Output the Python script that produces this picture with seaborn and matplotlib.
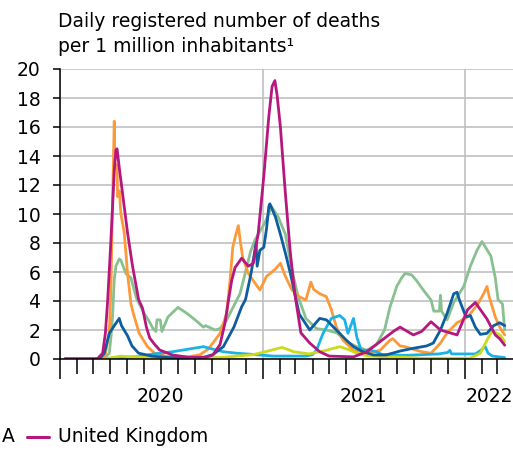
import matplotlib
matplotlib.use("Agg")
import matplotlib.pyplot as plt
import matplotlib.dates as mdates
from matplotlib.lines import Line2D
import pandas as pd
import seaborn as sns

# ---------------- data ----------------
usa_dates = ["2020-01-10", "2020-03-20", "2020-03-30", "2020-04-02", "2020-04-05", "2020-04-08", "2020-04-11",
             "2020-04-17", "2020-04-20", "2020-04-29", "2020-05-08", "2020-05-18", "2020-06-01", "2020-06-10",
             "2020-06-17", "2020-06-22", "2020-06-24", "2020-06-30", "2020-07-03", "2020-07-14", "2020-08-01",
             "2020-08-17", "2020-09-01", "2020-09-16", "2020-09-20", "2020-10-07", "2020-10-16", "2020-10-28",
             "2020-11-09", "2020-11-21", "2020-12-01", "2020-12-10", "2020-12-18", "2021-01-05", "2021-01-17",
             "2021-01-29", "2021-02-11", "2021-02-23", "2021-03-06", "2021-03-20", "2021-04-08", "2021-04-26",
             "2021-05-15", "2021-06-01", "2021-06-20", "2021-07-08", "2021-07-25", "2021-08-09", "2021-08-19",
             "2021-08-31", "2021-09-09", "2021-09-15", "2021-09-27", "2021-10-06", "2021-10-18", "2021-11-01",
             "2021-11-06", "2021-11-16", "2021-11-18", "2021-11-20", "2021-11-30", "2021-12-12", "2021-12-30",
             "2022-01-11", "2022-01-23", "2022-02-01", "2022-02-17", "2022-02-25", "2022-03-02", "2022-03-10",
             "2022-03-14"]
usa_values = [0, 0, 0.4, 1.5, 3.0, 5.5, 6.4,
              6.9, 6.8, 5.9, 5.6, 4.2, 3.15, 2.6,
              2.1, 1.9, 2.7, 2.7, 1.9, 2.9, 3.56,
              3.15, 2.7, 2.2, 2.3, 2.0, 2.1, 2.7,
              3.6, 4.5, 6.0, 7.4, 8.2, 9.4, 10.5,
              9.8, 8.6, 6.1, 4.3, 2.8, 2.1, 2.0,
              1.8, 1.2, 0.85, 0.6, 0.97, 2.0, 3.6,
              5.0, 5.6, 5.9, 5.8, 5.4, 4.76, 4.07,
              3.3, 3.3, 4.4, 3.3, 2.7, 3.9, 5.0,
              6.4, 7.5, 8.1, 7.1, 5.6, 4.1, 3.8,
              2.0]

uk_dates = ["2020-01-10", "2020-03-08", "2020-03-18", "2020-03-23", "2020-03-27", "2020-04-01", "2020-04-04",
            "2020-04-08", "2020-04-11", "2020-04-13", "2020-04-17", "2020-04-23", "2020-05-02", "2020-05-11",
            "2020-05-22", "2020-05-29", "2020-06-05", "2020-06-11", "2020-06-20", "2020-06-29", "2020-07-22",
            "2020-08-20", "2020-09-20", "2020-10-03", "2020-10-16", "2020-10-25", "2020-10-31", "2020-11-06",
            "2020-11-12", "2020-11-24", "2020-12-06", "2020-12-15", "2020-12-24", "2021-01-03", "2021-01-12",
            "2021-01-18", "2021-01-23", "2021-01-27", "2021-02-02", "2021-02-11", "2021-02-20", "2021-02-28",
            "2021-03-11", "2021-03-27", "2021-04-14", "2021-05-01", "2021-06-14", "2021-07-08", "2021-08-01",
            "2021-08-25", "2021-09-06", "2021-09-30", "2021-10-15", "2021-11-01", "2021-11-18", "2021-12-18",
            "2022-01-06", "2022-01-20", "2022-02-10", "2022-02-25", "2022-03-05", "2022-03-14"]
uk_values = [0, 0, 0.4, 1.8, 4.0, 7.5, 9.8,
             13.0, 14.4, 14.5, 13.2, 11.4, 8.7, 6.4,
             4.1, 3.5, 2.2, 1.45, 1.0, 0.62, 0.28,
             0.12, 0.12, 0.28, 1.0, 2.5, 4.0, 5.4,
             6.3, 6.95, 6.4, 6.6, 8.7, 12.6, 16.7,
             18.8, 19.2, 18.2, 16.0, 11.4, 7.3, 4.5,
             1.8, 1.1, 0.5, 0.2, 0.15, 0.5, 1.2,
             1.9, 2.2, 1.66, 1.9, 2.57, 2.0, 1.66,
             3.4, 3.9, 2.76, 1.66, 1.4, 0.95]

france_dates = ["2020-01-10", "2020-03-12", "2020-03-22", "2020-03-30", "2020-04-02", "2020-04-05", "2020-04-08",
                "2020-04-09", "2020-04-13", "2020-04-14", "2020-04-17", "2020-04-20", "2020-04-26", "2020-05-02",
                "2020-05-08", "2020-05-12", "2020-05-23", "2020-06-07", "2020-06-20", "2020-07-10", "2020-08-20",
                "2020-09-10", "2020-09-25", "2020-10-03", "2020-10-16", "2020-10-28", "2020-11-03", "2020-11-08",
                "2020-11-13", "2020-11-18", "2020-11-22", "2020-11-26", "2020-12-06", "2020-12-15", "2020-12-27",
                "2021-01-08", "2021-01-24", "2021-02-02", "2021-02-11", "2021-02-23", "2021-03-08", "2021-03-20",
                "2021-03-29", "2021-04-03", "2021-04-14", "2021-04-26", "2021-05-05", "2021-05-14", "2021-05-26",
                "2021-06-14", "2021-07-08", "2021-08-01", "2021-08-19", "2021-08-24", "2021-09-06", "2021-09-15",
                "2021-10-15", "2021-11-01", "2021-11-18", "2021-11-30", "2021-12-18", "2022-01-06", "2022-01-23",
                "2022-02-04", "2022-02-10", "2022-02-14", "2022-02-25", "2022-03-05", "2022-03-14"]
france_values = [0, 0, 0.2, 1.8, 5.0, 11.0, 16.4,
                 13.2, 13.4, 11.2, 11.6, 10.0, 8.7, 5.9,
                 3.84, 3.2, 1.77, 0.85, 0.4, 0.2, 0.15,
                 0.3, 0.7, 1.1, 1.77, 3.15, 5.4, 7.7,
                 8.5, 9.2, 8.0, 7.0, 5.9, 5.4, 4.76,
                 5.7, 6.2, 6.6, 5.7, 4.76, 4.3, 4.07,
                 5.3, 4.8, 4.5, 4.3, 3.4, 2.2, 1.3,
                 0.6, 0.4, 0.6, 1.3, 1.4, 0.9, 0.85,
                 0.5, 0.4, 1.1, 1.8, 2.5, 2.9, 3.7,
                 4.5, 5.0, 4.3, 2.9, 2.2, 1.66]

germany_dates = ["2020-01-10", "2020-03-12", "2020-03-21", "2020-03-30", "2020-04-08", "2020-04-17", "2020-04-21",
                 "2020-05-02", "2020-05-10", "2020-05-22", "2020-06-15", "2020-07-15", "2020-09-15", "2020-10-03",
                 "2020-10-22", "2020-11-10", "2020-11-24", "2020-12-01", "2020-12-11", "2020-12-20", "2020-12-22",
                 "2020-12-27", "2021-01-03", "2021-01-08", "2021-01-12", "2021-01-14", "2021-01-24", "2021-02-02",
                 "2021-02-11", "2021-02-20", "2021-02-28", "2021-03-08", "2021-03-27", "2021-04-14", "2021-04-26",
                 "2021-05-14", "2021-06-01", "2021-06-14", "2021-07-01", "2021-07-20", "2021-08-12", "2021-09-06",
                 "2021-09-30", "2021-10-24", "2021-11-05", "2021-11-18", "2021-11-30", "2021-12-12", "2021-12-18",
                 "2021-12-22", "2022-01-03", "2022-01-11", "2022-01-20", "2022-01-29", "2022-02-10", "2022-02-22",
                 "2022-03-05", "2022-03-14"]
germany_values = [0, 0, 0.4, 1.77, 2.3, 2.8, 2.3,
                  1.6, 0.9, 0.4, 0.2, 0.1, 0.1, 0.3,
                  0.85, 2.2, 3.6, 4.1, 5.9, 8.0, 6.4,
                  7.5, 7.7, 9.0, 10.5, 10.7, 9.8, 8.6,
                  7.3, 5.9, 4.5, 3.1, 2.0, 2.8, 2.7,
                  2.0, 1.3, 0.85, 0.5, 0.28, 0.28, 0.55,
                  0.74, 0.9, 1.1, 2.0, 3.15, 4.5, 4.6,
                  4.1, 2.9, 3.0, 2.2, 1.7, 1.77, 2.3,
                  2.5, 2.3]

korea_dates = ["2020-01-10", "2020-03-20", "2020-04-15", "2020-05-23", "2020-06-10", "2020-06-29", "2020-07-22",
               "2020-08-23", "2020-09-16", "2020-10-01", "2020-10-22", "2020-11-15", "2020-12-20", "2021-01-20",
               "2021-03-20", "2021-04-01", "2021-04-08", "2021-04-20", "2021-05-05", "2021-05-20", "2021-05-29",
               "2021-06-04", "2021-06-14", "2021-06-20", "2021-06-28", "2021-07-15", "2021-07-25", "2021-08-05",
               "2021-09-15", "2021-11-15", "2021-12-01", "2021-12-05", "2021-12-08", "2022-01-20", "2022-01-30",
               "2022-02-07", "2022-02-12", "2022-02-20", "2022-03-14"]
korea_values = [0, 0, 0.1, 0.16, 0.3, 0.4, 0.5,
                0.7, 0.85, 0.7, 0.5, 0.4, 0.3, 0.2,
                0.2, 0.3, 0.6, 1.77, 2.8, 3.0, 2.7,
                1.77, 2.8, 1.5, 0.6, 0.6, 0.5, 0.3,
                0.25, 0.35, 0.45, 0.6, 0.35, 0.35, 0.6,
                0.85, 0.4, 0.2, 0.1]

japan_dates = ["2020-01-10", "2020-03-20", "2020-04-20", "2020-05-15", "2020-07-15", "2020-10-15", "2020-11-15",
               "2020-12-15", "2021-01-16", "2021-02-05", "2021-02-26", "2021-03-26", "2021-04-26", "2021-05-20",
               "2021-06-05", "2021-06-20", "2021-07-10", "2021-08-15", "2021-09-15", "2021-10-15", "2022-01-10",
               "2022-01-29", "2022-02-10", "2022-02-19", "2022-02-27", "2022-03-07", "2022-03-14"]
japan_values = [0, 0, 0.2, 0.12, 0.08, 0.1, 0.2,
                0.3, 0.6, 0.8, 0.5, 0.35, 0.6, 0.85,
                0.65, 0.4, 0.2, 0.15, 0.12, 0.05, 0.05,
                0.4, 1.3, 1.9, 1.8, 1.6, 1.2]

countries = ["USA", "France", "South Korea", "Japan", "Germany", "United Kingdom"]
colors = ["#88c08f", "#fb9a3a", "#1ab3e6", "#cbda1c", "#0c5ea0", "#b5177f"]
year_labels = ["2020", "2021", "2022"]
y_ticks = list(range(0, 21, 2))

series = {
    "USA": (usa_dates, usa_values),
    "France": (france_dates, france_values),
    "South Korea": (korea_dates, korea_values),
    "Japan": (japan_dates, japan_values),
    "Germany": (germany_dates, germany_values),
    "United Kingdom": (uk_dates, uk_values),
}
frames = []
for name, (d, v) in series.items():
    frames.append(pd.DataFrame({"date": pd.to_datetime(d), "value": v, "country": name}))
df = pd.concat(frames, ignore_index=True)

# ---------------- figure ----------------
sns.set_theme(style="white")
plt.rcParams["font.family"] = ["DejaVu Sans"]

W, H = 513, 450
fig = plt.figure(figsize=(W / 100, H / 100), dpi=100)
ax_left, ax_right, ax_top, ax_bottom = 60, 513, 69, 359
ax = fig.add_axes([ax_left / W, 1 - ax_bottom / H, (ax_right - ax_left) / W, (ax_bottom - ax_top) / H])

sns.lineplot(data=df, x="date", y="value", hue="country", hue_order=countries,
             palette=dict(zip(countries, colors)), estimator=None, legend=False,
             linewidth=2.0, ax=ax, zorder=3)

ax.set_xlim(pd.Timestamp("2020-01-01"), pd.Timestamp("2022-03-29"))
ax.set_ylim(0, 20)
ax.set_xlabel("")
ax.set_ylabel("")

# y axis
ax.set_yticks(y_ticks)
ax.set_yticklabels([str(t) for t in y_ticks])
ax.tick_params(axis="y", direction="out", length=5, width=1.1, color="black",
               pad=9.0, labelsize=13.5, labelcolor="black", left=True)
ax.grid(axis="y", color="#c0c0c0", linewidth=1.2, zorder=0)

# x axis: year majors, monthly minors
ax.xaxis.set_major_locator(mdates.YearLocator())
ax.xaxis.set_minor_locator(mdates.MonthLocator())
ax.xaxis.set_major_formatter(plt.NullFormatter())
ax.tick_params(axis="x", which="major", direction="out", length=14.5, width=1.1, color="black", bottom=True)
ax.tick_params(axis="x", which="minor", direction="out", length=10.5, width=1.1, color="black", bottom=True)
ax.grid(axis="x", which="major", color="#c0c0c0", linewidth=1.2, zorder=0)
ax.set_axisbelow(True)

for s in ["top", "right"]:
    ax.spines[s].set_visible(False)
for s in ["left", "bottom"]:
    ax.spines[s].set_color("black")
    ax.spines[s].set_linewidth(1.1)
    ax.spines[s].set_zorder(4)

# year labels centred under each year span
year_centres = [pd.Timestamp("2020-07-01"), pd.Timestamp("2021-07-01"), pd.Timestamp("2022-02-14")]
for lab, xc in zip(year_labels, year_centres):
    ax.text(mdates.date2num(xc), -0.131, lab, transform=ax.get_xaxis_transform(),
            ha="center", va="center", fontsize=13.5, color="black")

# title
fig.text(58 / W, 1 - 27 / H, "Daily registered number of deaths", ha="left", va="baseline",
         fontsize=13.5, color="black")
fig.text(58 / W, 1 - 52 / H, "per 1 million inhabitants\u00b9", ha="left", va="baseline",
         fontsize=13.5, color="black")

# legend (bottom row; the entry before "United Kingdom" is cut at the left edge
# in the reference, only its last letter is visible)
ly = 1 - 437 / H
fig.text(15 / W, ly, "A", ha="right", va="center", fontsize=13.5, color="black")
fig.add_artist(Line2D([27 / W, 49 / W], [ly, ly], color=colors[countries.index("United Kingdom")],
                      linewidth=2.2, transform=fig.transFigure))
fig.text(58 / W, ly, "United Kingdom", ha="left", va="center", fontsize=13.5, color="black")

fig.savefig("out.png", dpi=100)
